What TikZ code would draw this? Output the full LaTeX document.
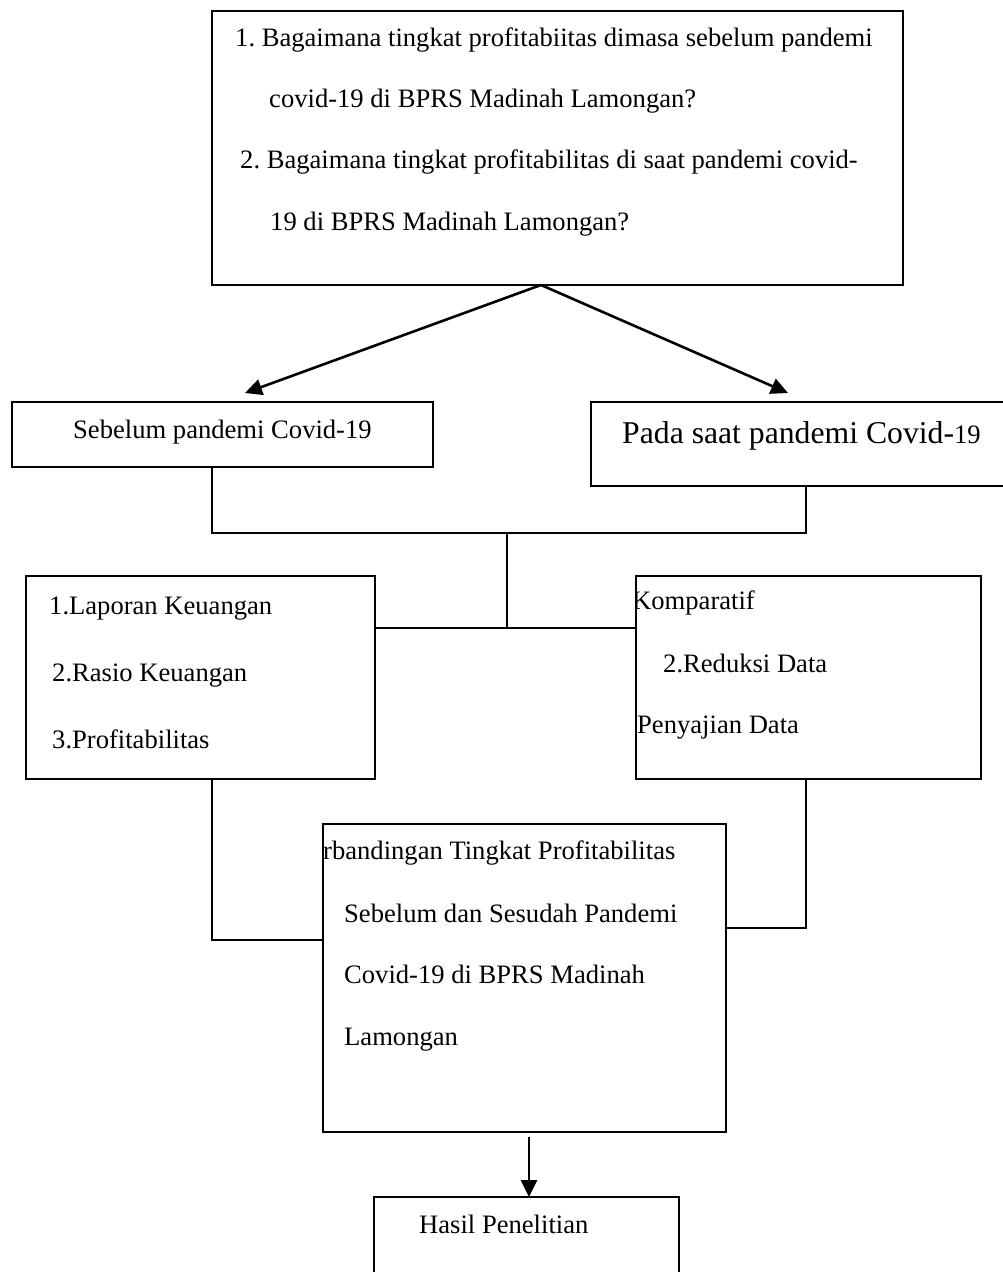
\documentclass[tikz,border=0pt]{standalone}
\usepackage{fontspec}
\setmainfont{Liberation Serif}
\usetikzlibrary{arrows.meta}
\frenchspacing
\newcommand{\normtxt}{\fontsize{26.6pt}{30pt}\selectfont}
\newcommand{\bigtxt}{\fontsize{31.7pt}{36pt}\selectfont}
\tikzset{
  box/.style={draw, line width=2pt, anchor=north west, inner sep=0pt, outer sep=0pt},
  txt/.style={anchor=base west, inner sep=0pt, font=\normtxt},
  link/.style={line width=1.6pt},
  arr/.style={line width=2.6pt, -{Triangle[length=17pt,width=16pt]}}
}
\begin{document}
\begin{tikzpicture}[x=1pt,y=-1pt]
\useasboundingbox (0,0) rectangle (1003,1272);
\fill[white] (0,0) rectangle (1003,1272);

% boxes
\node[box, minimum width=691pt, minimum height=274pt] (q) at (212,11) {};
\node[box, minimum width=421pt, minimum height=65pt] (s1) at (12,402) {};
\node[box, minimum width=430pt, minimum height=84pt] (s2) at (591,402) {};
\node[box, minimum width=349pt, minimum height=203pt] (m1) at (26,576) {};
\node[box, minimum width=345pt, minimum height=203pt] (m2) at (636,576) {};
\node[box, minimum width=403pt, minimum height=308pt] (c) at (323,824) {};
\node[box, minimum width=305pt, minimum height=95pt] (h) at (374,1197) {};

% texts
\node[txt] (q1) at (235,46) {1. Bagaimana tingkat profitabiitas dimasa sebelum pandemi};
\node[txt] (q2) at (269,107) {covid-19 di BPRS Madinah Lamongan?};
\node[txt] (q3) at (240,168) {2. Bagaimana tingkat profitabilitas di saat pandemi covid-};
\node[txt] (q4) at (270,230) {19 di BPRS Madinah Lamongan?};

\node[txt] (s1t) at (73,438) {Sebelum pandemi Covid-19};
\node[txt, font=\bigtxt] (s2t) at (622,443) {Pada saat pandemi Covid-{\normtxt 19}};

\node[txt] (m1a) at (49,614) {1.Laporan Keuangan};
\node[txt] (m1b) at (52,681) {2.Rasio Keuangan};
\node[txt] (m1c) at (52,748) {3.Profitabilitas};

\begin{scope}
\clip (636,576) rectangle (981,779);
\node[txt] (m2a) at (632,609) {Komparatif};
\end{scope}
\node[txt] (m2b) at (663,672) {2.Reduksi Data};
\node[txt] (m2c) at (637,733) {Penyajian Data};

\node[txt] (c1) at (323,859) {rbandingan Tingkat Profitabilitas};
\node[txt] (c2) at (344,922) {Sebelum dan Sesudah Pandemi};
\node[txt] (c3) at (344,983) {Covid-19 di BPRS Madinah};
\node[txt] (c4) at (344,1045) {Lamongan};

\node[txt] (ht) at (419,1233) {Hasil Penelitian};

% junction coordinates
\coordinate (qa) at (541,285);
\coordinate (ta) at (245,393);
\coordinate (tb) at (788,393);
\coordinate (j1) at (212,533);
\coordinate (j2) at (806,533);
\coordinate (j3) at (507,533);
\coordinate (j4) at (507,628);
\coordinate (k1) at (212,940);
\coordinate (k2) at (806,928);
\coordinate (k3) at (529,1137);

% connectors
\draw[arr] (qa) -- (ta);
\draw[arr] (qa) -- (tb);
\draw[link] (s1.south -| j1) -- (j1) -- (j2) -- (s2.south -| j2);
\draw[link] (j3) -- (j4);
\draw[link] (m1.east |- j4) -- (m2.west |- j4);
\draw[link] (m1.south -| k1) -- (k1) -- (c.west |- k1);
\draw[link] (m2.south -| k2) -- (k2) -- (c.east |- k2);
\draw[arr] (k3) -- (h.north -| k3);
\end{tikzpicture}
\end{document}
